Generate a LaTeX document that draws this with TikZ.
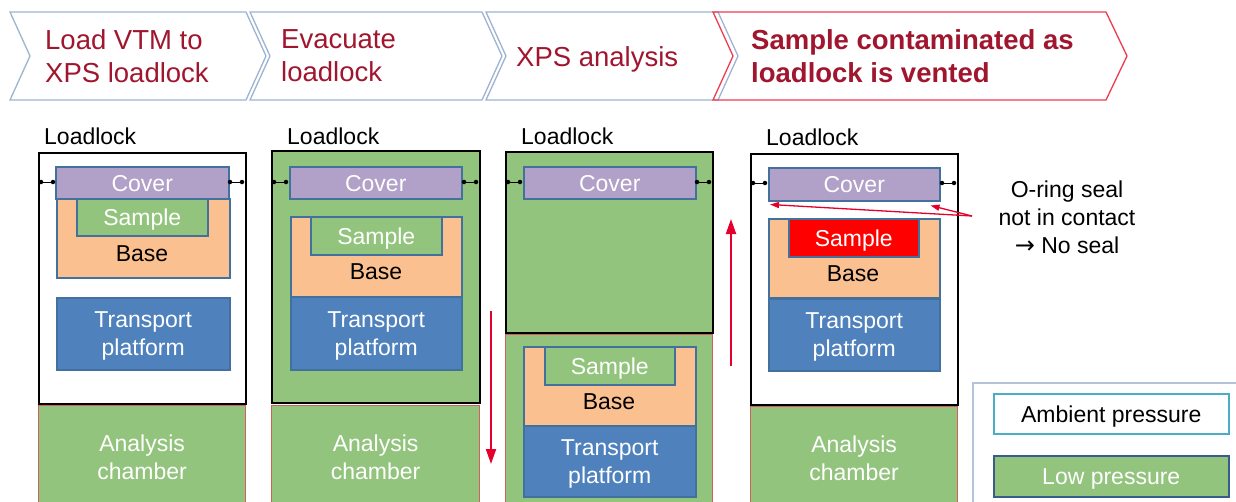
\documentclass[tikz,border=0pt]{standalone}
\usepackage{fontspec}
\setmainfont{Liberation Sans}
\newfontfamily\symbolfont{DejaVu Sans}
\usetikzlibrary{arrows.meta,calc}
\definecolor{lowgreen}{HTML}{93C47D}
\definecolor{basefill}{HTML}{FAC090}
\definecolor{coverfill}{HTML}{B1A0C7}
\definecolor{platform}{HTML}{4F81BD}
\definecolor{edgeblue}{HTML}{41719C}
\definecolor{chamberedge}{HTML}{D0605A}
\definecolor{arrowred}{HTML}{E4002B}
\definecolor{steptext}{HTML}{A0162E}
\definecolor{stepedge}{HTML}{9DB3CF}
\definecolor{stepred}{HTML}{EE3A50}
\definecolor{ambientedge}{HTML}{4BACC6}
\definecolor{legendedge}{HTML}{B4C3D8}
\definecolor{lowedge}{HTML}{385D8A}
\begin{document}
\begin{tikzpicture}[x=1pt,y=-1pt,
  txt/.style={font=\fontsize{23}{28}\selectfont},
  oneline/.style={text height=17pt, text depth=0.5pt},
  part/.style={txt, draw=edgeblue, line width=1.5pt, anchor=north west,
    inner sep=0pt, text=white, align=center},
  coverbox/.style={part, oneline, fill=coverfill},
  basebox/.style={part, fill=basefill},
  samplebox/.style={part, oneline, fill=lowgreen},
  platformbox/.style={part, text depth=0pt, fill=platform},
  lockbox/.style={draw=black, line width=2pt, anchor=north west, inner sep=0pt},
  chamberbox/.style={txt, draw=chamberedge, line width=1.2pt, fill=lowgreen,
    anchor=north west, inner sep=0pt, text=white, align=center},
  seal/.style={circle, fill=black, inner sep=0pt, minimum size=4.5pt},
  sealline/.style={black, line width=1pt},
  locklabel/.style={txt, anchor=base west, inner sep=0pt},
  steplabel/.style={font=\fontsize{27.5}{33}\selectfont, text=steptext,
    anchor=west, align=left, inner sep=0pt},
  stepframe/.style={draw=stepedge, line width=1.3pt},
  moveto/.style={arrowred, line width=2pt, -{Triangle[length=15pt,width=10pt]}},
  pointer/.style={arrowred, line width=1.3pt, -{Triangle[length=9pt,width=6pt]}}
]
\useasboundingbox (0,0) rectangle (1236,501);

% ---- process steps ----
\draw[stepframe] (10,12) -- (246,12) -- (266,56) -- (246,100) -- (10,100) -- (30,56) -- cycle;
\draw[stepframe] (250,12) -- (482,12) -- (502,56) -- (482,100) -- (250,100) -- (270,56) -- cycle;
\draw[stepframe] (486,12) -- (718,12) -- (738,56) -- (718,100) -- (486,100) -- (506,56) -- cycle;
\draw[stepframe, draw=stepred] (713,12) -- (1106,12) -- (1127,56) -- (1106,100) -- (713,100) -- (733,56) -- cycle;
\node[steplabel] (st1) at (45,56) {Load VTM to\\XPS loadlock};
\node[steplabel] (st2) at (281,56) {Evacuate\\loadlock};
\node[steplabel, text height=20pt, text depth=0pt] (st3) at (516,56) {XPS analysis};
\node[steplabel, font=\fontsize{27.5}{33}\selectfont\bfseries] (st4) at (751,56) {Sample contaminated as\\loadlock is vented};

% ---- column 1: sample loaded, loadlock at ambient pressure ----
\node[locklabel] (l1) at (44,144) {Loadlock};
\node[lockbox, fill=white, minimum width=207, minimum height=251] (lock1) at (38,152) {};
\node[chamberbox, minimum width=207, minimum height=103] (ch1) at (38,405) {Analysis\\chamber};
\node[basebox, minimum width=173, minimum height=79] (b1) at (56,198) {};
\node[samplebox, minimum width=131, minimum height=37] (sa1) at (76,198) {Sample};
\node[txt, oneline] (bt1) at (142,253) {Base};
\node[coverbox, minimum width=173, minimum height=32] (c1) at (55,166) {Cover};
\node[platformbox, minimum width=173, minimum height=72] (p1) at (56,297) {Transport\\platform};
\node[seal] (s1a) at (41,182) {}; \node[seal] (s1b) at (53,182) {};
\node[seal] (s1c) at (230,182) {}; \node[seal] (s1d) at (242,182) {};
\draw[sealline] (s1a) -- (s1b); \draw[sealline] (s1c) -- (s1d);

% ---- column 2: loadlock evacuated ----
\node[locklabel] (l2) at (287,144) {Loadlock};
\node[lockbox, fill=lowgreen, minimum width=208, minimum height=252] (lock2) at (271,150) {};
\node[chamberbox, minimum width=208, minimum height=103] (ch2) at (271,405) {Analysis\\chamber};
\node[basebox, minimum width=171, minimum height=80] (b2) at (290,216) {};
\node[samplebox, minimum width=131, minimum height=38] (sa2) at (310,216) {Sample};
\node[txt, oneline] (bt2) at (376,271) {Base};
\node[platformbox, minimum width=171, minimum height=73] (p2) at (290,296) {Transport\\platform};
\node[coverbox, minimum width=172, minimum height=32] (c2) at (289,166) {Cover};
\node[seal] (s2a) at (274,182) {}; \node[seal] (s2b) at (286,182) {};
\node[seal] (s2c) at (464,182) {}; \node[seal] (s2d) at (476,182) {};
\draw[sealline] (s2a) -- (s2b); \draw[sealline] (s2c) -- (s2d);
\coordinate (down1) at (491,311);
\coordinate (down2) at (491,464);
\draw[moveto] (down1) -- (down2);

% ---- column 3: sample in the analysis chamber ----
\node[locklabel] (l3) at (521,144) {Loadlock};
\node[lockbox, fill=lowgreen, minimum width=207, minimum height=181] (lock3) at (505,151) {};
\node[chamberbox, minimum width=207, minimum height=175] (ch3) at (505,334) {};
\node[coverbox, minimum width=172, minimum height=32] (c3) at (523,166) {Cover};
\node[seal] (s3a) at (508,182) {}; \node[seal] (s3b) at (520,182) {};
\node[seal] (s3c) at (697,182) {}; \node[seal] (s3d) at (709,182) {};
\draw[sealline] (s3a) -- (s3b); \draw[sealline] (s3c) -- (s3d);
\node[basebox, minimum width=172, minimum height=79] (b3) at (523,346) {};
\node[samplebox, minimum width=130, minimum height=38] (sa3) at (544,346) {Sample};
\node[txt, oneline] (bt3) at (609,401) {Base};
\node[platformbox, minimum width=172, minimum height=71] (p3) at (523,425) {Transport\\platform};
\coordinate (up1) at (731,366);
\coordinate (up2) at (731,219);
\draw[moveto] (up1) -- (up2);

% ---- column 4: loadlock vented ----
\node[locklabel] (l4) at (766,145) {Loadlock};
\node[lockbox, fill=white, minimum width=207, minimum height=251] (lock4) at (750,153) {};
\node[chamberbox, minimum width=207, minimum height=103] (ch4) at (750,406) {Analysis\\chamber};
\node[coverbox, minimum width=171, minimum height=33] (c4) at (768,167) {Cover};
\node[basebox, minimum width=171, minimum height=79] (b4) at (768,218) {};
\node[samplebox, fill=red, minimum width=130, minimum height=38] (sa4) at (788,218) {Sample};
\node[txt, oneline] (bt4) at (853,273) {Base};
\node[platformbox, minimum width=171, minimum height=72] (p4) at (768,298) {Transport\\platform};
\node[seal] (s4a) at (753,183) {}; \node[seal] (s4b) at (765,183) {};
\node[seal] (s4c) at (942,183) {}; \node[seal] (s4d) at (954,183) {};
\draw[sealline] (s4a) -- (s4b); \draw[sealline] (s4c) -- (s4d);
\node[txt, align=center] (note) at (1067,217) {O-ring seal\\not in contact\\{\symbolfont\fontsize{24}{28}\selectfont →} No seal};
\coordinate (gap) at (972,216);
\draw[pointer] (gap) -- ($(c4.south west)+(2,3)$);
\draw[pointer] (gap) -- ($(c4.south east)+(-10,4)$);

% ---- legend ----
\draw[legendedge, line width=1.2pt] (973,383) rectangle (1245,510);
\node[txt, oneline, draw=ambientedge, line width=1.5pt, fill=white, anchor=north west,
  inner sep=0pt, minimum width=235, minimum height=40] (amb) at (993,393) {Ambient pressure};
\node[txt, oneline, draw=lowedge, line width=1.5pt, fill=lowgreen, text=white, anchor=north west,
  inner sep=0pt, minimum width=235, minimum height=41] (low) at (993,455) {Low pressure};
\end{tikzpicture}
\end{document}
